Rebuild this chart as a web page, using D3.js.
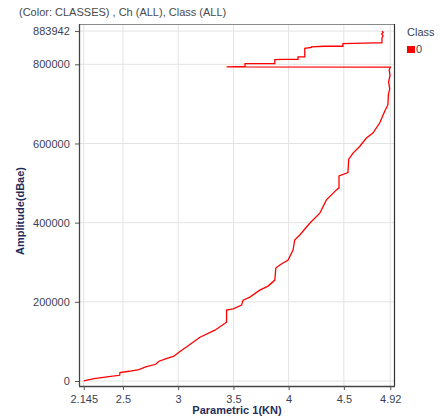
<!DOCTYPE html>
<html>
<head>
<meta charset="utf-8">
<script src="https://cdn.jsdelivr.net/npm/d3@7"></script>
<style>
  html, body { margin: 0; padding: 0; background: #ffffff; }
  svg { display: block; font-family: "Liberation Sans", Arial, sans-serif; }
</style>
</head>
<body>
<svg id="chart" width="446" height="419"></svg>
<script>
// Hit sequence ordered by amplitude: parametric value (KN) and amplitude (dBae)
const param = [
  2.145, 2.238, 2.389, 2.470, 2.473, 2.555, 2.644, 2.706, 2.796, 2.826,
  2.886, 2.961, 3.007, 3.097, 3.197, 3.332, 3.438, 3.438, 3.498, 3.574,
  3.588, 3.649, 3.739, 3.814, 3.875, 3.884, 3.920, 3.995, 4.040, 4.055,
  4.101, 4.191, 4.282, 4.342, 4.433, 4.456, 4.456, 4.537, 4.544, 4.583,
  4.643, 4.704, 4.763, 4.824, 4.869, 4.899, 4.903, 4.915, 4.905, 4.918,
  4.910, 4.920,
  3.438, 3.605, 3.605, 3.875, 3.875, 3.950, 4.085, 4.085, 4.146, 4.146,
  4.206, 4.206, 4.327, 4.492, 4.492, 4.779, 4.845, 4.845, 4.855, 4.842,
  4.856, 4.845
];
const amplitude = [
  0, 6076, 11899, 14430, 21265, 24556, 28860, 35442, 42278, 49873,
  55695, 62531, 72657, 90379, 110630, 128352, 148600, 179000, 182275, 191640,
  204300, 211900, 229600, 239700, 254900, 285300, 292900, 305500, 330900, 356200,
  368800, 398500, 423800, 457500, 482800, 487800, 518200, 526600, 560500, 575700,
  592400, 613700, 626300, 651600, 681000, 698000, 723300, 738000, 756000, 772000,
  785000, 792900,
  793300, 794500, 801700, 801700, 811900, 812600, 812600, 818700, 818700, 840500,
  842500, 844000, 845600, 845600, 852400, 854200, 854200, 866800, 872000, 877000,
  880500, 883942
];
const classes = ["0"];
const xTicks = [2.145, 2.5, 3, 3.5, 4, 4.5, 4.92];
const yTicks = [0, 200000, 400000, 600000, 800000, 883942];

const svg = d3.select("#chart");
const frame = { left: 79, right: 395, top: 24, bottom: 386 };

const x = d3.scaleLinear().domain([2.102, 4.963]).range([frame.left, frame.right]);
const y = d3.scaleLinear().domain([-12658, 901800]).range([frame.bottom, frame.top]);

// Title
svg.append("text")
  .attr("x", 19).attr("y", 16)
  .attr("font-size", 11).attr("fill", "#4a4a4a")
  .text("(Color: CLASSES) , Ch (ALL), Class (ALL)");

// Grid lines
const grid = svg.append("g");
grid.selectAll("line.gx").data(xTicks).join("line")
  .attr("x1", d => x(d)).attr("x2", d => x(d))
  .attr("y1", frame.top).attr("y2", frame.bottom)
  .attr("stroke", "#e3e3e3").attr("stroke-width", 1);
grid.selectAll("line.gy").data(yTicks).join("line")
  .attr("x1", frame.left).attr("x2", frame.right)
  .attr("y1", d => y(d)).attr("y2", d => y(d))
  .attr("stroke", "#e3e3e3").attr("stroke-width", 1);

// Frame
svg.append("line").attr("x1", frame.left).attr("x2", frame.right)
  .attr("y1", frame.top + 0.5).attr("y2", frame.top + 0.5)
  .attr("stroke", "#8a8a8a").attr("stroke-width", 1.2);
svg.append("line").attr("x1", frame.right - 0.5).attr("x2", frame.right - 0.5)
  .attr("y1", frame.top).attr("y2", frame.bottom)
  .attr("stroke", "#333").attr("stroke-width", 1.2);

// Axes
const xAxis = d3.axisBottom(x).tickValues(xTicks)
  .tickFormat(d => String(d)).tickSize(4).tickSizeOuter(0);
const yAxis = d3.axisLeft(y).tickValues(yTicks)
  .tickFormat(d => String(d)).tickSize(4).tickSizeOuter(0);

const gx = svg.append("g").attr("transform", `translate(0,${frame.bottom})`).call(xAxis);
const gy = svg.append("g").attr("transform", `translate(${frame.left},0)`).call(yAxis);
[gx, gy].forEach(g => {
  g.select(".domain").attr("stroke", "#444").attr("stroke-width", 1.3);
  g.selectAll(".tick line").attr("stroke", "#555");
  g.selectAll(".tick text")
    .attr("font-size", 11).attr("fill", "#3a3f55")
    .attr("font-family", "Liberation Sans, Arial, sans-serif");
});
gx.select(".domain").attr("d", `M${frame.left},0.5H${frame.right}`);
gy.select(".domain").attr("d", `M0.5,${frame.top}V${frame.bottom}`);
gx.selectAll(".tick text").attr("dy", "0.9em");
gy.selectAll(".tick text").attr("dx", "-0.2em");

// Axis titles
svg.append("text")
  .attr("x", 237).attr("y", 414)
  .attr("text-anchor", "middle")
  .attr("font-size", 11).attr("font-weight", "bold").attr("fill", "#1f2d5a")
  .text("Parametric 1(KN)");
svg.append("text")
  .attr("transform", `translate(24,${(frame.top + frame.bottom) / 2 + 6}) rotate(-90)`)
  .attr("text-anchor", "middle")
  .attr("font-size", 11).attr("font-weight", "bold").attr("fill", "#1f2d5a")
  .text("Amplitude(dBae)");

// Data line
const pts = param.map((p, i) => [p, amplitude[i]]);
svg.append("path")
  .datum(pts)
  .attr("fill", "none")
  .attr("stroke", "#ff0000")
  .attr("stroke-width", 1.3)
  .attr("stroke-linejoin", "miter")
  .attr("d", d3.line().x(d => x(d[0])).y(d => y(d[1])));

// Legend
svg.append("text")
  .attr("x", 407).attr("y", 36)
  .attr("font-size", 11).attr("fill", "#3a3f55")
  .text("Class");
const leg = svg.selectAll("g.leg").data(classes).join("g")
  .attr("transform", (d, i) => `translate(407,${46 + i * 14})`);
leg.append("rect").attr("width", 8).attr("height", 7).attr("fill", "#ff0000");
leg.append("text").attr("x", 9).attr("y", 7)
  .attr("font-size", 11).attr("fill", "#3a3f55")
  .text(d => d);
</script>
</body>
</html>
